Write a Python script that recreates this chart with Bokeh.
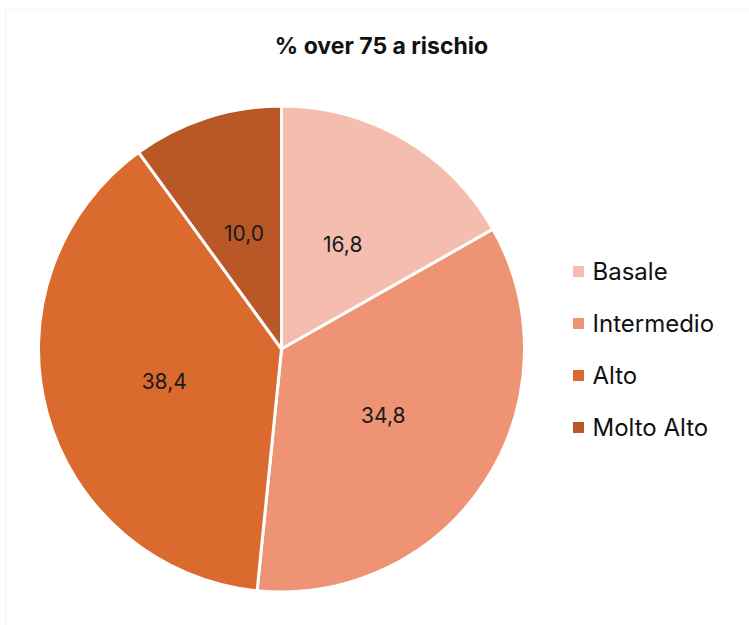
import math
from bokeh.plotting import figure
from bokeh.models import Range1d, ColumnDataSource, BoxAnnotation
from bokeh.core.properties import value
from bokeh.embed import file_html
from bokeh.resources import INLINE

# Data
categories = ["Basale", "Intermedio", "Alto", "Molto Alto"]
values = [16.8, 34.8, 38.4, 10.0]
colors = ["#F4BDAF", "#EE9373", "#DB6A2E", "#B95727"]
title_text = "% over 75 a rischio"

W, H = 749, 625
FONT = "Inter"

p = figure(width=W, height=H, x_range=Range1d(0, W), y_range=Range1d(0, H),
           output_backend="svg", toolbar_location=None, min_border=0)
p.axis.visible = False
p.grid.visible = False
p.outline_line_color = None
p.background_fill_color = "white"
p.border_fill_color = "white"

# chart-area frame
p.add_layout(BoxAnnotation(left=5, right=W + 20, bottom=-20, top=H - 9.5,
                           fill_alpha=0, line_color="#d9d9d9", line_width=1))

cx, cy, R = 281, H - 348.5, 243
total = sum(values)
starts, ends, lx, ly, labels = [], [], [], [], []
cum = 0.0
for v in values:
    a0 = math.pi / 2 - 2 * math.pi * cum / total
    a1 = math.pi / 2 - 2 * math.pi * (cum + v) / total
    starts.append(a0)
    ends.append(a1)
    mid = (a0 + a1) / 2
    lx.append(cx + 0.5 * R * math.cos(mid))
    ly.append(cy + 0.5 * R * math.sin(mid))
    labels.append(f"{v:.1f}".replace(".", ","))
    cum += v

src = ColumnDataSource(dict(start=starts, end=ends, color=colors,
                            lx=lx, ly=ly, label=labels))
p.wedge(x=cx, y=cy, radius=R, start_angle="start", end_angle="end",
        direction="clock", fill_color="color", line_color="white",
        line_width=3, source=src)
p.text(x="lx", y="ly", text="label", source=src, text_align="center",
       text_baseline="middle", text_font=value(FONT),
       text_font_size="21px", text_color="#1a1a1a")

# title
p.text(x=[381], y=[H - 45], text=[title_text], text_align="center",
       text_baseline="middle", text_font=value(FONT), text_font_style="bold",
       text_font_size="23px", text_color="#111111")

# legend
leg_y = [H - (271 + 52 * i) for i in range(len(categories))]
leg = ColumnDataSource(dict(x=[578] * len(categories), tx=[592] * len(categories),
                            y=leg_y, color=colors, label=categories))
p.scatter(x="x", y="y", marker="square", size=11, fill_color="color",
          line_color=None, source=leg)
p.text(x="tx", y="y", text="label", source=leg, text_align="left",
       text_baseline="middle", text_font=value(FONT),
       text_font_size="24px", text_color="#111111")

open("out.html", "w").write(file_html(p, INLINE))
